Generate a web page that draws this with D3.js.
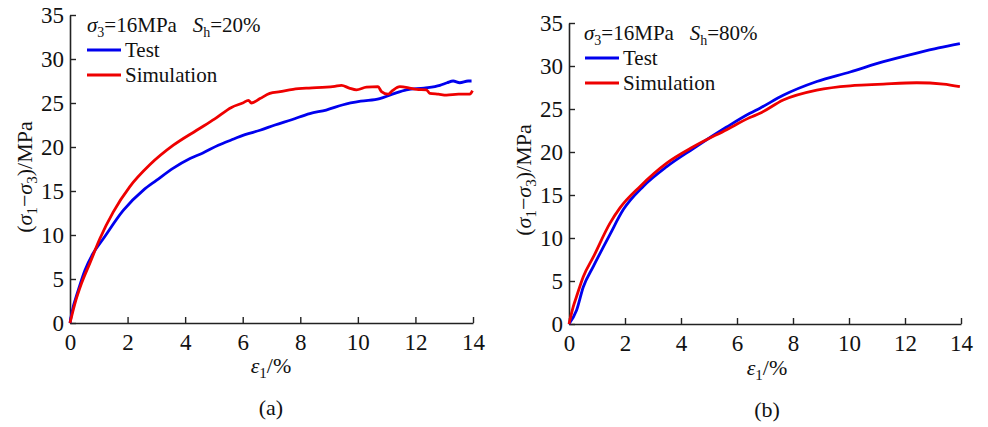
<!DOCTYPE html>
<html>
<head>
<meta charset="utf-8">
<script src="https://cdn.jsdelivr.net/npm/d3@7"></script>
<style>
  body { margin: 0; background: #fff; }
  text { font-family: "Times New Roman", "Liberation Serif", serif; fill: #111; }
</style>
</head>
<body>
<div id="chart"></div>
<script>
// axis ticks
var xTicks = [0, 2, 4, 6, 8, 10, 12, 14];
var yTicks = [0, 5, 10, 15, 20, 25, 30, 35];

// panel (a): Sh = 20%  [strain %, deviator stress MPa]
var testA = [[0,0],[0.06,1.1],[0.29,3.75],[0.52,6.0],[0.8,7.9],[1.16,9.6],[1.85,12.8],[2.55,15.1],
  [3.0,16.2],[3.59,17.6],[4.17,18.7],[4.6,19.3],[5.15,20.2],[5.6,20.8],[6.08,21.4],[6.6,21.9],[7.12,22.5],
  [7.7,23.1],[8.33,23.8],[8.9,24.2],[9.49,24.8],[10.1,25.2],[10.76,25.5],[11.2,26.0],[11.69,26.5],
  [12.3,26.7],[12.85,27.0],[13.1,27.3],[13.31,27.5],[13.54,27.3],[13.83,27.5],[13.95,27.5]];
var simA = [[0,0],[0.17,2.2],[0.4,4.5],[0.69,6.8],[1.04,9.6],[1.5,12.6],[2.08,15.5],[2.78,18.0],
  [3.59,20.2],[4.4,21.9],[5.03,23.2],[5.61,24.5],[6.0,25.0],[6.2,25.3],[6.3,25.0],[6.6,25.5],
  [6.94,26.1],[7.3,26.3],[7.75,26.55],[8.3,26.7],[8.91,26.8],[9.2,26.9],[9.43,27.0],[9.7,26.7],[9.95,26.5],
  [10.3,26.8],[10.7,26.85],[10.82,26.3],[11.05,26.0],[11.2,26.4],[11.46,26.85],[11.8,26.7],[12.04,26.55],
  [12.38,26.5],[12.5,26.1],[12.8,26.0],[13.08,25.9],[13.5,26.0],[13.89,26.0],[13.98,26.4]];

// panel (b): Sh = 80%
var testB = [[0,0],[0.27,1.6],[0.51,4.3],[0.87,6.7],[1.46,10.4],[1.94,13.3],[2.65,16.0],
  [3.49,18.3],[4.44,20.4],[5.63,22.9],[6.46,24.5],[6.82,25.1],[7.65,26.6],[8.85,28.2],[10.04,29.3],
  [11.23,30.5],[12.42,31.5],[13.2,32.1],[13.96,32.6]];
var simB = [[0,0],[0.15,2.0],[0.27,3.2],[0.51,5.5],[0.87,7.8],[1.46,11.7],[1.82,13.5],[2.54,16.0],[3.49,18.7],
  [4.44,20.6],[5.63,22.6],[6.46,24.0],[6.82,24.5],[7.65,26.05],[8.85,27.2],[10.04,27.7],[10.63,27.8],
  [11.23,27.9],[12.42,28.05],[13.37,27.9],[13.96,27.6]];

var panels = [
  { id: "a", test: testA, sim: simA, left: 70, right: 473, top: 15, bottom: 323, sh: "20%",
    titleX: 87, titleY: 32, legX: 87, legY: 50, ylabX: 32, ylabY: 177, xlabY: 373, capY: 415, capX: 271 },
  { id: "b", test: testB, sim: simB, left: 569, right: 961, top: 23, bottom: 324, sh: "80%",
    titleX: 584, titleY: 40, legX: 585, legY: 58, ylabX: 531, ylabY: 180, xlabY: 375, capY: 417, capX: 767 }
];

var svg = d3.select("#chart").append("svg")
  .attr("width", 988)
  .attr("height", 427);

panels.forEach(function (p) {
  var x = d3.scaleLinear().domain([0, 14]).range([p.left, p.right]);
  var y = d3.scaleLinear().domain([0, 35]).range([p.bottom, p.top]);
  var g = svg.append("g");

  // axes, ticks point inward
  var xAxis = g.append("g")
    .attr("transform", "translate(0," + p.bottom + ")")
    .call(d3.axisBottom(x).tickValues(xTicks).tickSize(-6).tickSizeOuter(0).tickPadding(11));
  var yAxis = g.append("g")
    .attr("transform", "translate(" + p.left + ",0)")
    .call(d3.axisLeft(y).tickValues(yTicks).tickSize(-6).tickSizeOuter(0).tickPadding(6));
  [xAxis, yAxis].forEach(function (a) {
    a.attr("font-family", null);
    a.select(".domain").attr("stroke", "#222").attr("stroke-width", 1.6);
    a.selectAll(".tick line").attr("stroke", "#222").attr("stroke-width", 1.4);
    a.selectAll(".tick text").style("font-size", "23px").attr("fill", "#111");
  });

  // curves
  var line = d3.line().curve(d3.curveMonotoneX)
    .x(function (d) { return x(d[0]); }).y(function (d) { return y(d[1]); });
  g.append("path").datum(p.test).attr("d", line)
    .attr("fill", "none").attr("stroke", "#0000ee").attr("stroke-width", 2.8);
  g.append("path").datum(p.sim).attr("d", line)
    .attr("fill", "none").attr("stroke", "#ee0000").attr("stroke-width", 2.8);

  // title
  var t = g.append("text").attr("x", p.titleX).attr("y", p.titleY).style("font-size", "21px");
  t.append("tspan").style("font-style", "italic").text("σ");
  t.append("tspan").attr("dy", 5).style("font-size", "14px").text("3");
  t.append("tspan").attr("dy", -5).text("=16MPa\u00a0\u00a0\u00a0");
  t.append("tspan").style("font-style", "italic").text("S");
  t.append("tspan").attr("dy", 5).style("font-size", "14px").text("h");
  t.append("tspan").attr("dy", -5).text("=" + p.sh);

  // legend
  var legend = [{ name: "Test", color: "#0000ee" }, { name: "Simulation", color: "#ee0000" }];
  legend.forEach(function (d, i) {
    var ly = p.legY + i * 25;
    g.append("line").attr("x1", p.legX).attr("x2", p.legX + 34).attr("y1", ly).attr("y2", ly)
      .attr("stroke", d.color).attr("stroke-width", 3);
    g.append("text").attr("x", p.legX + 38).attr("y", ly + 7).style("font-size", "21px").text(d.name);
  });

  // y label
  var yl = g.append("text")
    .attr("transform", "translate(" + p.ylabX + "," + p.ylabY + ") rotate(-90)")
    .attr("text-anchor", "middle").style("font-size", "22px");
  yl.append("tspan").text("(");
  yl.append("tspan").style("font-style", "italic").text("σ");
  yl.append("tspan").attr("dy", 5).style("font-size", "15px").text("1");
  yl.append("tspan").attr("dy", -5).text("−");
  yl.append("tspan").style("font-style", "italic").text("σ");
  yl.append("tspan").attr("dy", 5).style("font-size", "15px").text("3");
  yl.append("tspan").attr("dy", -5).text(")/MPa");

  // x label
  var xl = g.append("text").attr("x", p.capX).attr("y", p.xlabY)
    .attr("text-anchor", "middle").style("font-size", "22px");
  xl.append("tspan").style("font-style", "italic").text("ε");
  xl.append("tspan").attr("dy", 5).style("font-size", "15px").text("1");
  xl.append("tspan").attr("dy", -5).text("/%");

  // caption
  g.append("text").attr("x", p.capX).attr("y", p.capY)
    .attr("text-anchor", "middle").style("font-size", "22px").text("(" + p.id + ")");
});
</script>
</body>
</html>
